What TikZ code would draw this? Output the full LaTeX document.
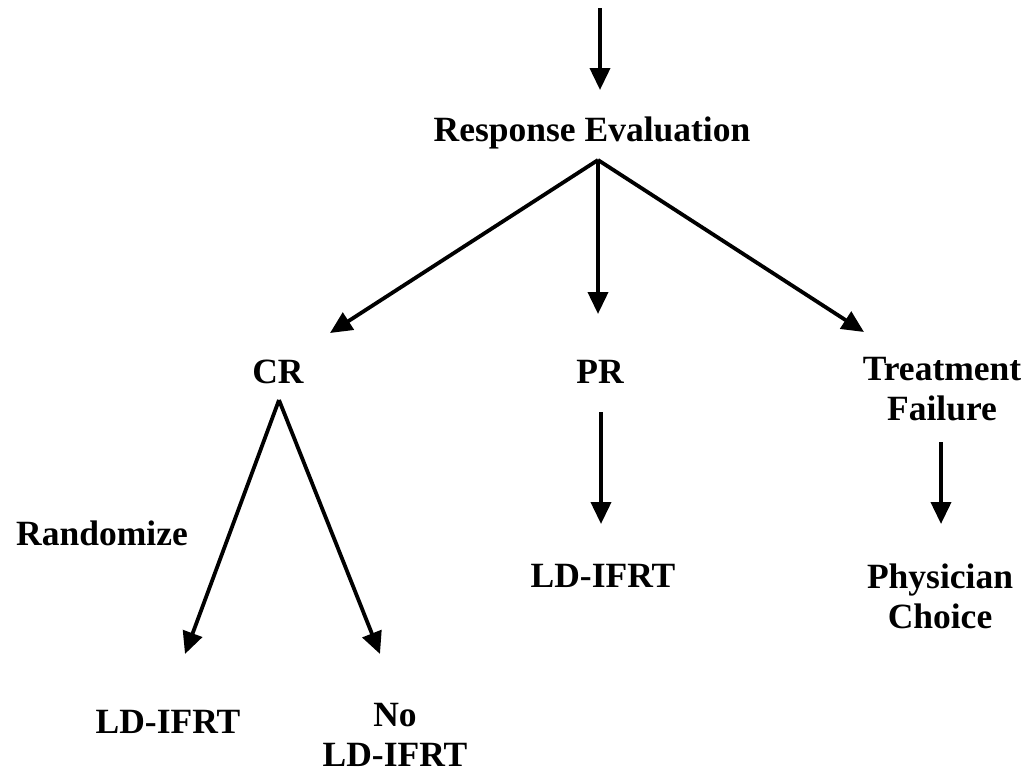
\documentclass[tikz,border=0pt]{standalone}
\usepackage{fontspec}
\setmainfont{Liberation Serif}
\usetikzlibrary{arrows.meta}
\tikzset{
  lbl/.style={font=\fontsize{35.5}{40}\selectfont\bfseries, inner sep=0pt, align=center, text=black},
  arr/.style={line width=3.8pt, -{Triangle[length=22pt,width=20pt]}, black}
}
\begin{document}
\begin{tikzpicture}[x=1pt,y=-1pt]
\useasboundingbox[fill=white] (0,0) rectangle (1025,777);
% nodes
\node[lbl] (RE) at (592,133) {Response Evaluation};
\node[lbl] (CR) at (278,372) {CR};
\node[lbl] (PR) at (600,372) {PR};
\node[lbl] (TF) at (942,389) {Treatment\\Failure};
\node[lbl] (RA) at (102,533) {Randomize};
\node[lbl] (LDm) at (603,576) {LD-IFRT};
\node[lbl] (PC) at (940,596) {Physician\\Choice};
\node[lbl] (LDl) at (168,722) {LD-IFRT};
\node[lbl] (NO) at (395,735) {No\\LD-IFRT};
% connector end points
\coordinate (top) at (600,8);
\coordinate (REin) at (600,90);
\coordinate (REout) at (598,160);
\coordinate (CRin) at (330,333);
\coordinate (PRin) at (598,314);
\coordinate (TFin) at (864,332);
\coordinate (CRout) at (279,400);
\coordinate (LDlin) at (185,654);
\coordinate (NOin) at (380,654);
\coordinate (PRout) at (601,412);
\coordinate (LDmin) at (601,524);
\coordinate (TFout) at (941,442);
\coordinate (PCin) at (941,524);
% connectors
\draw[arr] (top) -- (REin);
\draw[arr] (REout) -- (CRin);
\draw[arr] (REout) -- (PRin);
\draw[arr] (REout) -- (TFin);
\draw[arr] (CRout) -- (LDlin);
\draw[arr] (CRout) -- (NOin);
\draw[arr] (PRout) -- (LDmin);
\draw[arr] (TFout) -- (PCin);
\end{tikzpicture}
\end{document}
